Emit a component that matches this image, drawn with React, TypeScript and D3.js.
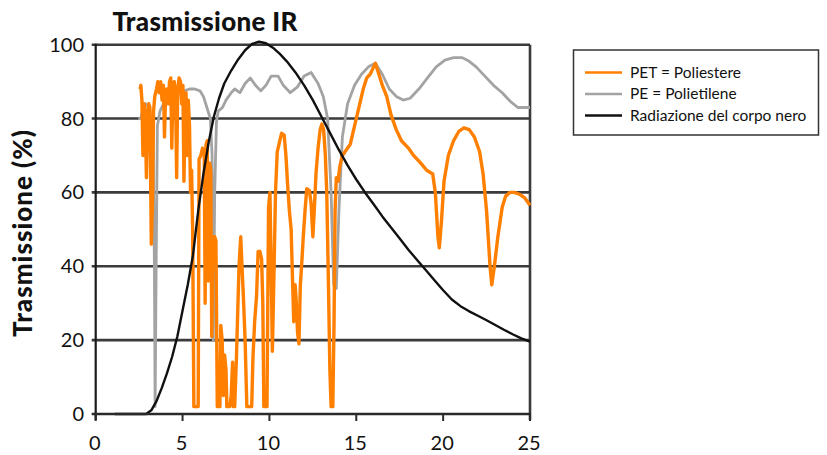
import React from 'react';
import * as d3 from 'd3';

// wavelength (µm) vs transmission (%)
const xTicks = [0, 5, 10, 15, 20, 25];
const yTicks = [0, 20, 40, 60, 80, 100];

const petData: [number, number][] = [
  [2.55, 88], [2.6, 89], [2.66, 85], [2.72, 70], [2.78, 84], [2.85, 82], [2.92, 64], [2.98, 80],
  [3.05, 84], [3.12, 83], [3.2, 46], [3.27, 58], [3.33, 82], [3.4, 86], [3.5, 88], [3.58, 90],
  [3.66, 87], [3.74, 90], [3.82, 85], [3.9, 89], [3.96, 75], [4.02, 86], [4.1, 88], [4.18, 84],
  [4.25, 90], [4.32, 91], [4.38, 72], [4.45, 89], [4.52, 90], [4.6, 86], [4.66, 64], [4.72, 88],
  [4.8, 91], [4.88, 90], [4.95, 84], [5.02, 89], [5.08, 63], [5.14, 80], [5.2, 87], [5.26, 70],
  [5.33, 85], [5.4, 78], [5.46, 60], [5.52, 66], [5.58, 50], [5.65, 2], [5.9, 2], [5.95, 69],
  [6.05, 70], [6.15, 72], [6.25, 70], [6.3, 30], [6.35, 73], [6.42, 74], [6.48, 36], [6.55, 68],
  [6.62, 66], [6.68, 21], [6.75, 48], [6.85, 48], [6.92, 47], [7.0, 2], [7.15, 2], [7.2, 24],
  [7.28, 20], [7.35, 5], [7.42, 16], [7.5, 12], [7.55, 2], [7.72, 2], [7.8, 5], [7.88, 14],
  [7.92, 2], [8.0, 2], [8.1, 15], [8.25, 40], [8.35, 48], [8.42, 40], [8.5, 32], [8.6, 20],
  [8.7, 2], [8.98, 2], [9.05, 15], [9.15, 25], [9.26, 32], [9.35, 44], [9.45, 44], [9.55, 42],
  [9.62, 30], [9.68, 2], [9.86, 2], [9.95, 56], [10.03, 60], [10.1, 40], [10.17, 17], [10.25, 35],
  [10.35, 60], [10.45, 71], [10.6, 74], [10.7, 76], [10.85, 75.5], [10.95, 70], [11.05, 62],
  [11.15, 55], [11.25, 50], [11.32, 38], [11.4, 25], [11.48, 35], [11.55, 30], [11.62, 22],
  [11.7, 19], [11.78, 35], [11.85, 40], [11.95, 48], [12.05, 55], [12.15, 61], [12.3, 60.5],
  [12.4, 57], [12.5, 48], [12.58, 55], [12.68, 65], [12.8, 72], [12.92, 77], [13.02, 78.5],
  [13.12, 77], [13.22, 70], [13.3, 60], [13.38, 40], [13.48, 12], [13.55, 2], [13.65, 2],
  [13.72, 25], [13.78, 55], [13.85, 64], [13.95, 63], [14.05, 67], [14.2, 70], [14.35, 71],
  [14.5, 72], [14.65, 73], [14.8, 76], [15.0, 80], [15.2, 84], [15.4, 88], [15.6, 91], [15.8, 92],
  [16.0, 94], [16.1, 95], [16.3, 92], [16.5, 89], [16.75, 86], [17.0, 81], [17.3, 77], [17.6, 74],
  [18.0, 72], [18.3, 70], [18.7, 68], [19.05, 66], [19.4, 65], [19.55, 60], [19.7, 48], [19.78, 45],
  [19.9, 52], [20.05, 63], [20.3, 70], [20.6, 74], [20.9, 76.5], [21.2, 77.5], [21.5, 77], [21.8, 75],
  [22.1, 71], [22.3, 65], [22.5, 55], [22.7, 40], [22.8, 35], [22.95, 40], [23.15, 48], [23.4, 56],
  [23.6, 59], [23.85, 60], [24.1, 60], [24.4, 59.5], [24.7, 58.5], [25.0, 56.5],
];

const peData: [number, number][] = [
  [2.45, 80], [2.6, 80], [2.74, 83], [2.9, 84], [3.05, 83], [3.2, 80], [3.3, 79], [3.38, 40],
  [3.42, 2], [3.48, 40], [3.55, 78], [3.7, 82], [3.9, 84], [4.1, 85], [4.3, 86], [4.5, 87],
  [4.8, 87.5], [5.1, 87.5], [5.4, 88], [5.7, 88], [6.0, 87.5], [6.2, 86], [6.4, 83], [6.6, 80],
  [6.7, 70], [6.77, 20], [6.85, 60], [6.95, 79], [7.05, 82], [7.3, 83], [7.5, 85], [7.8, 87],
  [8.0, 88], [8.3, 87], [8.6, 89.5], [8.9, 91], [9.2, 89], [9.5, 87.5], [9.8, 89], [10.1, 91.5],
  [10.5, 91.5], [10.8, 89], [11.2, 87], [11.6, 88.5], [12.0, 91.5], [12.4, 92.5], [12.8, 89.5],
  [13.1, 86], [13.35, 80], [13.55, 60], [13.7, 35], [13.85, 34], [14.0, 55], [14.2, 75],
  [14.5, 84], [14.9, 89], [15.3, 92], [15.7, 94], [16.1, 95], [16.5, 92], [16.9, 88], [17.3, 86],
  [17.7, 85], [18.1, 85.5], [18.6, 88], [19.1, 91], [19.6, 94], [20.1, 95.8], [20.6, 96.5],
  [21.1, 96.5], [21.5, 95.5], [21.9, 94], [22.4, 91.5], [22.9, 89], [23.4, 87], [23.9, 84.5],
  [24.3, 83], [24.6, 83], [25.0, 83],
];

const blackBodyData: [number, number][] = [
  [1.1, 0], [2.0, 0], [2.9, 0], [3.2, 1], [3.5, 3.5], [3.8, 7], [4.1, 11], [4.4, 15.5], [4.7, 21],
  [5.0, 28], [5.3, 35], [5.6, 43], [5.9, 55], [6.2, 65], [6.5, 73.5], [6.8, 80.5], [7.1, 85.5],
  [7.4, 89.5], [7.8, 93], [8.2, 96], [8.6, 98.5], [9.0, 100.2], [9.4, 100.8], [9.8, 100.4],
  [10.2, 99.2], [10.6, 97.5], [11.0, 95.5], [11.5, 92.5], [12.0, 89], [12.5, 85], [13.0, 80.5],
  [13.5, 76], [14.0, 71.5], [14.5, 67.3], [15.0, 63.5], [15.5, 60], [16.0, 56.8], [16.5, 53.5],
  [17.0, 50.5], [17.5, 47.5], [18.0, 44.5], [18.5, 41.7], [19.0, 39], [19.5, 36.2], [20.0, 33.5],
  [20.5, 31], [21.0, 29.2], [21.5, 27.8], [22.0, 26.6], [22.5, 25.4], [23.0, 24.1], [23.5, 22.8],
  [24.0, 21.6], [24.5, 20.5], [25.0, 19.6],
];

const legendItems = [
  { label: 'PET = Poliestere', color: '#ff7f00' },
  { label: 'PE = Polietilene', color: '#a3a3a3' },
  { label: 'Radiazione del corpo nero', color: '#111111' },
];

const FONT = 'Lato, "DejaVu Sans", sans-serif';

const App: React.FC = () => {
  const width = 827;
  const height = 455;
  const left = 95.7, right = 530, top = 44.7, bottom = 414;

  const xScale = d3.scaleLinear().domain([0, 25]).range([left, right]);
  const yScale = d3.scaleLinear().domain([0, 100]).range([bottom, top]);

  const line = d3.line<[number, number]>()
    .x(d => xScale(d[0]))
    .y(d => yScale(d[1]));

  return (
    <svg width={width} height={height} style={{ position: 'absolute', left: 0, top: 0, background: '#fff' }}>
      <defs>
        <filter id="soft" x="-5%" y="-5%" width="110%" height="110%">
          <feGaussianBlur stdDeviation="0.6" />
        </filter>
      </defs>

      {/* title */}
      <text x={205} y={31} textAnchor="middle" fontFamily={FONT} fontWeight={900} fontSize={26} letterSpacing={0.3} fill="#111">
        Trasmissione IR
      </text>

      {/* grid */}
      <g filter="url(#soft)">
        {yTicks.filter(t => t > 0).map(t => (
          <line key={t} x1={left - 4} x2={right} y1={yScale(t)} y2={yScale(t)} stroke="#3a3a3a" strokeWidth={2.6} />
        ))}
        <line x1={right} x2={right} y1={top} y2={bottom + 6} stroke="#3a3a3a" strokeWidth={2.6} />
      </g>

      {/* series */}
      <path d={line(peData) ?? ''} fill="none" stroke="#a3a3a3" strokeWidth={2.8} strokeLinejoin="round" filter="url(#soft)" />
      <path d={line(petData) ?? ''} fill="none" stroke="#ff7f00" strokeWidth={3.4} strokeLinejoin="round" />
      <path d={line(blackBodyData) ?? ''} fill="none" stroke="#111" strokeWidth={2.4} strokeLinejoin="round" />

      {/* axes */}
      <line x1={left} x2={left} y1={top - 1} y2={bottom + 6} stroke="#1a1a1a" strokeWidth={2.2} />
      <line x1={left - 4} x2={right + 1} y1={bottom} y2={bottom} stroke="#2a2a2a" strokeWidth={2.6} />
      {xTicks.map(t => (
        <g key={t}>
          <line x1={xScale(t)} x2={xScale(t)} y1={bottom} y2={bottom + 7} stroke="#2a2a2a" strokeWidth={2} />
          <text x={xScale(t) - 1} y={450} textAnchor="middle" fontFamily={FONT} fontSize={20} fill="#111">{t}</text>
        </g>
      ))}
      {yTicks.map(t => (
        <text key={t} x={84} y={yScale(t) + 7} textAnchor="end" fontFamily={FONT} fontSize={20} fill="#111">{t}</text>
      ))}

      {/* y label */}
      <text transform="translate(32,233) rotate(-90)" textAnchor="middle" fontFamily={FONT} fontWeight={900} fontSize={26} letterSpacing={1} fill="#111">
        Trasmissione (%)
      </text>

      {/* legend */}
      <rect x={573.5} y={50} width={245} height={85} fill="#fff" stroke="#333" strokeWidth={1.5} />
      {legendItems.map((item, i) => (
        <g key={item.label} transform={`translate(0,${72.5 + i * 21.5})`}>
          <line x1={585} x2={622} y1={0} y2={0} stroke={item.color} strokeWidth={2.5} />
          <text x={630} y={5} fontFamily={FONT} fontSize={15.5} fill="#111">{item.label}</text>
        </g>
      ))}
    </svg>
  );
};

export default App;
